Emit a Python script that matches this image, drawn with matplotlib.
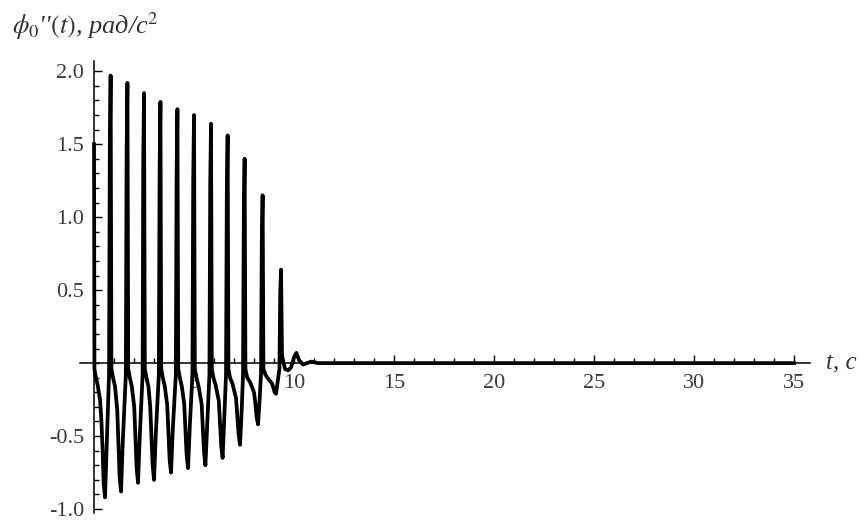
import matplotlib
matplotlib.use("Agg")
import matplotlib.pyplot as plt
from matplotlib.ticker import MultipleLocator, FixedLocator, FixedFormatter

# curve points: time (s) and angular acceleration (rad/s^2)
t_start = [0.00, 0.02, 0.08, 0.18, 0.30, 0.37, 0.43, 0.48, 0.55, 0.64, 0.75, 0.79, 0.83]
v_start = [1.50, -0.04, -0.09, -0.15, -0.25, -0.40, -0.60, -0.82, -0.92, -0.55, -0.08, 1.48, 1.97]

t_c1 = [0.87, 0.95, 1.05, 1.16, 1.22, 1.28, 1.35, 1.44, 1.59, 1.63, 1.67]
v_c1 = [-0.04, -0.10, -0.16, -0.32, -0.55, -0.78, -0.88, -0.53, -0.08, 1.45, 1.92]
t_c2 = [1.71, 1.79, 1.89, 2.01, 2.07, 2.13, 2.20, 2.29, 2.43, 2.46, 2.50]
v_c2 = [-0.04, -0.10, -0.16, -0.30, -0.52, -0.72, -0.82, -0.49, -0.08, 1.39, 1.85]
t_c3 = [2.54, 2.62, 2.72, 2.81, 2.87, 2.93, 3.00, 3.09, 3.24, 3.28, 3.32]
v_c3 = [-0.04, -0.10, -0.16, -0.30, -0.50, -0.70, -0.80, -0.48, -0.08, 1.34, 1.79]
t_c4 = [3.36, 3.44, 3.54, 3.66, 3.72, 3.78, 3.85, 3.94, 4.09, 4.13, 4.17]
v_c4 = [-0.04, -0.10, -0.16, -0.29, -0.47, -0.66, -0.75, -0.45, -0.08, 1.30, 1.74]
t_c5 = [4.21, 4.29, 4.39, 4.51, 4.57, 4.63, 4.70, 4.79, 4.92, 4.96, 5.00]
v_c5 = [-0.04, -0.10, -0.16, -0.28, -0.45, -0.63, -0.72, -0.43, -0.08, 1.27, 1.70]
t_c6 = [5.04, 5.12, 5.23, 5.38, 5.44, 5.50, 5.57, 5.66, 5.77, 5.81, 5.85]
v_c6 = [-0.04, -0.10, -0.16, -0.28, -0.44, -0.61, -0.70, -0.42, -0.08, 1.23, 1.64]
t_c7 = [5.89, 5.97, 6.08, 6.24, 6.30, 6.36, 6.43, 6.51, 6.60, 6.64, 6.68]
v_c7 = [-0.04, -0.10, -0.15, -0.26, -0.41, -0.57, -0.65, -0.38, -0.08, 1.17, 1.56]
t_c8 = [6.72, 6.80, 6.92, 7.10, 7.16, 7.23, 7.30, 7.38, 7.45, 7.49, 7.53]
v_c8 = [-0.04, -0.10, -0.14, -0.24, -0.36, -0.49, -0.56, -0.33, -0.08, 1.05, 1.40]
t_c9 = [7.57, 7.66, 7.80, 8.00, 8.07, 8.13, 8.20, 8.28, 8.35, 8.39, 8.43]
v_c9 = [-0.04, -0.10, -0.13, -0.20, -0.28, -0.37, -0.42, -0.25, -0.07, 0.86, 1.15]
t_c10 = [8.47, 8.57, 8.72, 8.90, 8.97, 9.03, 9.10, 9.18, 9.27, 9.31, 9.35]
v_c10 = [-0.04, -0.08, -0.11, -0.14, -0.17, -0.20, -0.21, -0.13, -0.04, 0.48, 0.64]

t_tail = [9.40, 9.55, 9.70, 9.85, 10.00, 10.12, 10.25, 10.45, 10.65, 10.85, 11.20, 35.0]
v_tail = [0.05, -0.04, -0.05, -0.03, 0.04, 0.07, 0.02, -0.01, 0.00, 0.01, 0.00, 0.00]

x_ticks = [5, 10, 15, 20, 25, 30, 35]
y_ticks = [-1.0, -0.5, 0.5, 1.0, 1.5, 2.0]
y_labels = ["-1.0", "-0.5", "0.5", "1.0", "1.5", "2.0"]

t_all = (t_start + t_c1 + t_c2 + t_c3 + t_c4 + t_c5 + t_c6 + t_c7
         + t_c8 + t_c9 + t_c10 + t_tail)
v_all = (v_start + v_c1 + v_c2 + v_c3 + v_c4 + v_c5 + v_c6 + v_c7
         + v_c8 + v_c9 + v_c10 + v_tail)

plt.rcParams['mathtext.fontset'] = 'stix'
plt.rcParams['axes.unicode_minus'] = False
serif = ['Liberation Serif', 'DejaVu Serif']

fig = plt.figure(figsize=(8.68, 5.24), dpi=100)
ax = fig.add_axes([0.0922, 0.0202, 0.841, 0.8634])
ax.set_xlim(-0.7, 35.8)
ax.set_ylim(-1.03, 2.07)

ax.plot(t_all, v_all, color='black', lw=2.7, solid_joinstyle='round', zorder=3)

# Mathematica-like axes crossing at the origin
for side in ('top', 'right'):
    ax.spines[side].set_visible(False)
ax.spines['left'].set_position(('data', 0))
ax.spines['bottom'].set_position(('data', 0))
ax.spines['left'].set_linewidth(1.1)
ax.spines['bottom'].set_linewidth(1.1)

ax.xaxis.set_major_locator(FixedLocator(x_ticks))
ax.xaxis.set_minor_locator(MultipleLocator(1))
ax.yaxis.set_major_locator(FixedLocator(y_ticks))
ax.yaxis.set_major_formatter(FixedFormatter(y_labels))
ax.yaxis.set_minor_locator(MultipleLocator(0.1))

ax.tick_params(which='both', direction='in', width=1.0, color='black')
ax.tick_params(which='major', length=6)
ax.tick_params(which='minor', length=3.5)
ax.tick_params(axis='x', which='major', pad=8)
ax.tick_params(axis='y', which='major', pad=7)
for lab in ax.get_xticklabels() + ax.get_yticklabels():
    lab.set_family(serif)
    lab.set_fontsize(16)
    lab.set_color('#3a3a3a')

ax.text(36.6, 0, 't, c', family=serif, style='italic', fontsize=18,
        color='#333333', ha='left', va='center')
fig.text(0.014, 0.935, r"$\phi_0$''$(t)$, рад/с$^2$", family=serif,
         style='italic', fontsize=19, color='#333333', ha='left', va='baseline')

fig.savefig('out.png', dpi=100)
